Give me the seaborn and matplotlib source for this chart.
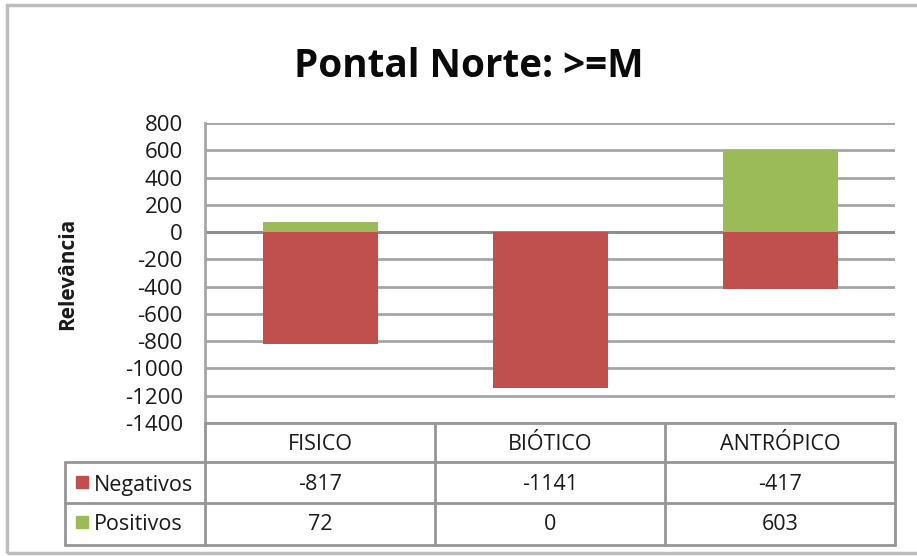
import numpy as np
import pandas as pd
import matplotlib
matplotlib.use("Agg")
import matplotlib.pyplot as plt
import seaborn as sns

# data
categorias = ["FISICO", "BIÓTICO", "ANTRÓPICO"]
negativos = [-817, -1141, -417]
positivos = [72, 0, 603]
series = ["Negativos", "Positivos"]
yticks = list(range(-1400, 801, 200))

red = "#C0504D"
green = "#9BBB59"
grid_c = "#A6A6A6"
line_c = "#969696"
txt_c = "#1a1a1a"

sns.set_theme(style="white")
plt.rcParams['font.family'] = ['Open Sans', 'DejaVu Sans']

W, H = 917, 556
fig = plt.figure(figsize=(W / 100, H / 100), dpi=100)

def fx(px):
    return px / W

def fy(py):
    return 1 - py / H

# plot area in pixels: x 205..895, y 123..423
ax = fig.add_axes([fx(205), fy(423), fx(895) - fx(205), fy(123) - fy(423)])

df = pd.DataFrame({"cat": categorias, "neg": negativos, "pos": positivos})
sns.barplot(data=df, x="cat", y="neg", color=red, saturation=1, width=0.5,
            linewidth=0, edgecolor="none", ax=ax, zorder=3)
sns.barplot(data=df, x="cat", y="pos", color=green, saturation=1, width=0.5,
            linewidth=0, edgecolor="none", ax=ax, zorder=3)

ax.set_ylim(-1400, 800)
ax.set_xlim(-0.5, len(categorias) - 0.5)
ax.set_yticks(yticks)
ax.set_yticklabels([str(v) for v in yticks], fontsize=16, color=txt_c)
ax.tick_params(axis="y", length=0, pad=16)
ax.set_xticks([])
ax.set_xlabel("")
ax.set_ylabel("")
ax.grid(axis="y", color=grid_c, lw=2, zorder=0)
for s in ["top", "right", "bottom"]:
    ax.spines[s].set_visible(False)
ax.spines["left"].set_color(grid_c)
ax.spines["left"].set_linewidth(2)
ax.axhline(0, color="#8c8c8c", lw=2, zorder=2)
ax.axhline(-1400, color=line_c, lw=2, zorder=2, clip_on=False)

fig.text(fx(68), fy(274), "Relevância", rotation=90, ha="center", va="center",
         fontsize=15, fontweight="bold", color=txt_c)
fig.text(fx(469), fy(77), "Pontal Norte: >=M", ha="center", va="baseline",
         fontsize=27.8, fontweight="bold", color="#0a0a0a")

# data table under the plot
def hline(y, x0, x1):
    fig.add_artist(plt.Line2D([fx(x0), fx(x1)], [fy(y), fy(y)], color=line_c, lw=2))

def vline(x, y0, y1):
    fig.add_artist(plt.Line2D([fx(x), fx(x)], [fy(y0), fy(y1)], color=line_c, lw=2))

col_edges = [205, 435, 665, 895]
row_edges = [462, 503, 545]
for y in row_edges:
    hline(y, 65, 895)
for x in col_edges:
    vline(x, 423, 545)
vline(65, 462, 545)

col_centers = [(a + b) / 2 for a, b in zip(col_edges[:-1], col_edges[1:])]
for xc, c in zip(col_centers, categorias):
    fig.text(fx(xc), fy(445), c, ha="center", va="center", fontsize=15.5, color=txt_c)
rows_y = [485, 525]
for yc, nome, vals, cor in zip(rows_y, series, [negativos, positivos], [red, green]):
    fig.add_artist(plt.Rectangle((fx(76), fy(yc + 3)), fx(12), 12 / H, color=cor,
                                 transform=fig.transFigure))
    fig.text(fx(94), fy(yc), nome, ha="left", va="center", fontsize=15.5, color=txt_c)
    for xc, v in zip(col_centers, vals):
        fig.text(fx(xc), fy(yc), str(v), ha="center", va="center", fontsize=15.5, color=txt_c)

# outer chart frame
fig.add_artist(plt.Rectangle((fx(7), fy(553)), fx(920) - fx(7), fy(5) - fy(553),
                             fill=False, edgecolor="#BDBDBD", lw=2.5, transform=fig.transFigure))

fig.savefig("out.png", dpi=100)
